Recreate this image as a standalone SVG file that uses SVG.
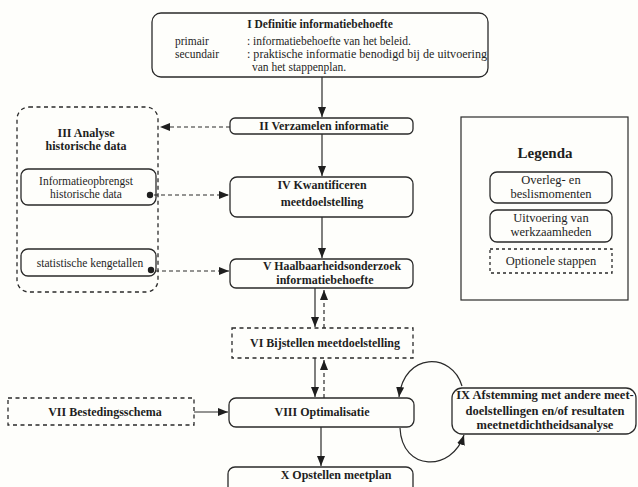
<svg xmlns="http://www.w3.org/2000/svg" width="638" height="487" viewBox="0 0 638 487">
<style>
text{font-family:"Liberation Serif","Times New Roman",serif;fill:#1e1e1e}
.b{font-weight:bold;font-size:12px}
.r{font-size:11.5px}
.s{font-size:11.5px}
.lg{font-size:12.5px}
.c{text-anchor:middle}
.box{fill:none;stroke:#2a2a2a;stroke-width:1.3}
.opt{fill:none;stroke:#2a2a2a;stroke-width:1.3;stroke-dasharray:4 3.5}
.ln{fill:none;stroke:#2a2a2a;stroke-width:1.2}
.dl{fill:none;stroke:#2a2a2a;stroke-width:1.2;stroke-dasharray:4 3}
</style>
<defs>
<marker id="ah" viewBox="0 0 10 8" refX="10" refY="4" markerWidth="10" markerHeight="8" orient="auto" markerUnits="userSpaceOnUse">
<path d="M0,0 L10,4 L0,8 z" fill="#1e1e1e"/>
</marker>
</defs>
<rect x="0" y="0" width="638" height="487" fill="#fefefb"/>

<g id="node-I">
<rect class="box" x="152" y="13" width="336" height="64" rx="9"/>
<text class="c" x="320" y="28" style="font-weight:bold;font-size:11.5px">I Definitie informatiebehoefte</text>
<text class="r" x="175" y="45">primair</text>
<text class="r" x="247" y="45">: informatiebehoefte van het beleid.</text>
<text class="r" x="175" y="58">secundair</text>
<text class="r" x="247" y="58" textLength="240" lengthAdjust="spacingAndGlyphs">: praktische informatie benodigd bij de uitvoering</text>
<text class="r" x="252" y="71">van het stappenplan.</text>
</g>

<g id="node-II">
<rect class="box" x="230" y="118" width="183" height="16" rx="5"/>
<text class="b c" x="324" y="130">II Verzamelen informatie</text>
</g>

<g id="node-III">
<rect class="opt" x="17" y="107" width="141" height="185" rx="12"/>
<text class="b c" x="86" y="137">III Analyse</text>
<text class="b c" x="86" y="150">historische data</text>
<g id="node-III-a">
<rect class="box" x="21" y="169" width="135" height="36" rx="7"/>
<text class="s c" x="86" y="185">Informatieopbrengst</text>
<text class="s c" x="86" y="198">historische data</text>
<circle cx="150" cy="195" r="3.2" fill="#1e1e1e"/>
</g>
<g id="node-III-b">
<rect class="box" x="21" y="249" width="135" height="27" rx="7"/>
<text class="s c" x="90" y="267">statistische kengetallen</text>
<circle cx="151" cy="270" r="3.2" fill="#1e1e1e"/>
</g>
</g>

<g id="node-IV">
<rect class="box" x="230" y="177" width="183" height="40" rx="7"/>
<text class="b c" x="322" y="189">IV Kwantificeren</text>
<text class="b c" x="322" y="206">meetdoelstelling</text>
</g>

<g id="node-V">
<rect class="box" x="230" y="259" width="183" height="29" rx="6"/>
<text class="b c" x="332" y="270" textLength="138" lengthAdjust="spacingAndGlyphs">V Haalbaarheidsonderzoek</text>
<text class="b c" x="325" y="284">informatiebehoefte</text>
</g>

<g id="node-VI">
<rect class="opt" x="232" y="328" width="181" height="30"/>
<text class="b c" x="325" y="347">VI Bijstellen meetdoelstelling</text>
</g>

<g id="node-VII">
<rect class="opt" x="8" y="398" width="186" height="27"/>
<text class="b c" x="105" y="416">VII Bestedingsschema</text>
</g>

<g id="node-VIII">
<rect class="box" x="229" y="398" width="185" height="29" rx="7"/>
<text class="b c" x="322" y="416">VIII Optimalisatie</text>
</g>

<g id="node-IX">
<rect class="box" x="452" y="388" width="184" height="46" rx="10"/>
<text class="c" x="545" y="399" style="font-weight:bold;font-size:12.5px">IX Afstemming met andere meet-</text>
<text class="c" x="545" y="415" style="font-weight:bold;font-size:12.5px">doelstellingen  en/of resultaten</text>
<text class="c" x="545" y="429" style="font-weight:bold;font-size:12.5px">meetnetdichtheidsanalyse</text>
</g>

<g id="node-X">
<rect class="box" x="228" y="467" width="185" height="30" rx="7"/>
<text class="b c" x="336" y="479">X Opstellen meetplan</text>
</g>

<g id="legend">
<rect class="ln" x="461" y="117" width="167" height="183"/>
<text class="c" x="545" y="158" style="font-weight:bold;font-size:15px">Legenda</text>
<rect class="box" x="490" y="172" width="122" height="31" rx="7"/>
<text class="lg c" x="551" y="184">Overleg- en</text>
<text class="lg c" x="551" y="198">beslismomenten</text>
<rect class="box" x="490" y="210" width="122" height="32" rx="7"/>
<text class="lg c" x="551" y="222">Uitvoering van</text>
<text class="lg c" x="551" y="236">werkzaamheden</text>
<rect class="opt" x="490" y="249" width="122" height="24" style="stroke-dasharray:3 3"/>
<text class="lg c" x="551" y="265">Optionele stappen</text>
</g>

<g id="connectors">
<path class="ln" d="M322,77 V117" marker-end="url(#ah)"/>
<path class="dl" d="M230,127 H160" marker-end="url(#ah)"/>
<path class="ln" d="M322,134 V176" marker-end="url(#ah)"/>
<path class="ln" d="M322,217 V258" marker-end="url(#ah)"/>
<path class="dl" d="M154,195 H229" marker-end="url(#ah)"/>
<path class="dl" d="M155,271 H229" marker-end="url(#ah)"/>
<path class="ln" d="M315,288 V327" marker-end="url(#ah)"/>
<path class="dl" d="M324,328 V290" marker-end="url(#ah)"/>
<path class="ln" d="M315,358 V397" marker-end="url(#ah)"/>
<path class="dl" d="M324,398 V360" marker-end="url(#ah)"/>
<path class="ln" d="M194,412 H228" marker-end="url(#ah)"/>
<path class="ln" d="M321,427 V466" marker-end="url(#ah)"/>
<path class="ln" d="M462,386 C452,352 404,352 399,397" marker-end="url(#ah)"/>
<path class="ln" d="M400,428 C402,472 452,472 464,435" marker-end="url(#ah)"/>
</g>
</svg>
